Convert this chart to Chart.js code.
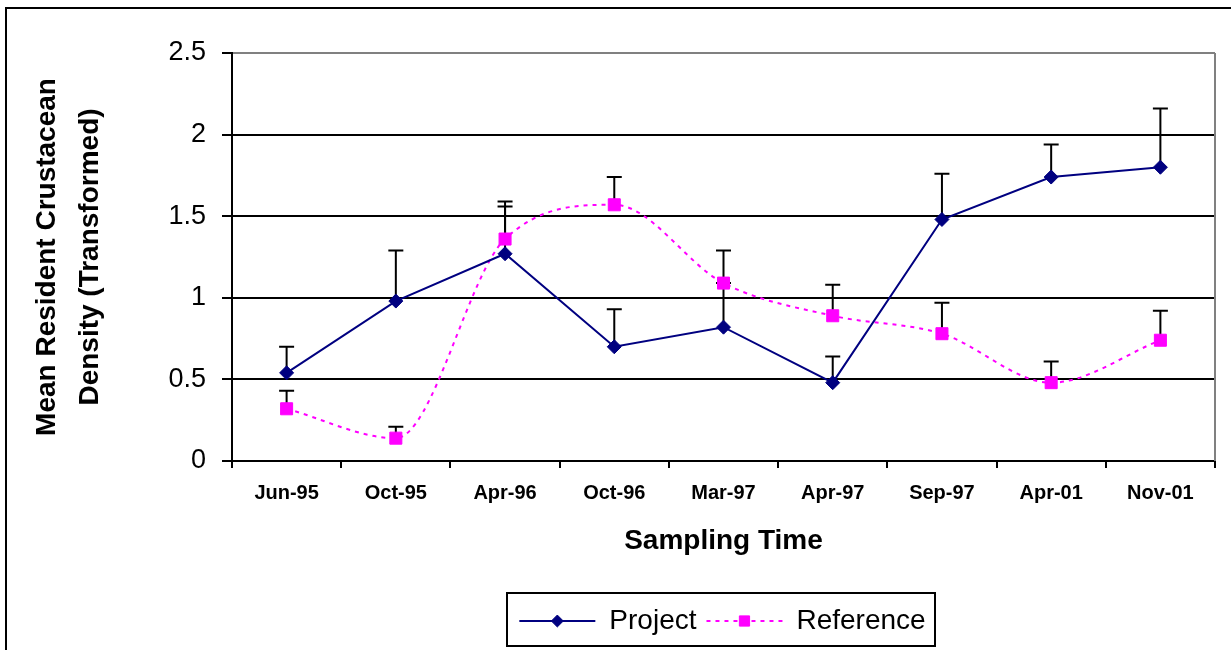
<!DOCTYPE html>
<html>
<head>
<meta charset="utf-8">
<script src="https://cdn.jsdelivr.net/npm/chart.js@4/dist/chart.umd.min.js"></script>
<style>
  html, body { margin: 0; padding: 0; background: #fff; }
  canvas { display: block; }
</style>
</head>
<body>
<canvas id="c" width="1231" height="650"></canvas>
<script>
// Sampling dates
const categories = ['Jun-95', 'Oct-95', 'Apr-96', 'Oct-96', 'Mar-97', 'Apr-97', 'Sep-97', 'Apr-01', 'Nov-01'];

// Mean (transformed) resident crustacean density and upper error (+1 SE)
const projectMean = [0.54, 0.98, 1.27, 0.70, 0.82, 0.48, 1.48, 1.74, 1.80];
const projectErr  = [0.16, 0.31, 0.32, 0.23, 0.27, 0.16, 0.28, 0.20, 0.36];
const referenceMean = [0.32, 0.14, 1.36, 1.57, 1.09, 0.89, 0.78, 0.48, 0.74];
const referenceErr  = [0.11, 0.07, 0.20, 0.17, 0.20, 0.19, 0.19, 0.13, 0.18];

const yTicks = [0, 0.5, 1, 1.5, 2, 2.5];

const FONT = '"Liberation Sans", Arial, sans-serif';
const errorSets = [projectErr, referenceErr];

const chartPlugin = {
  id: 'chartExtras',
  beforeDraw(chart) {
    const ctx = chart.ctx;
    ctx.save();
    ctx.fillStyle = '#fff';
    ctx.fillRect(0, 0, chart.width, chart.height);
    // outer frame
    ctx.strokeStyle = '#000';
    ctx.lineWidth = 2;
    ctx.strokeRect(6, 8, chart.width + 20, chart.height + 20);
    ctx.restore();
  },
  afterLayout(chart) {
    // centre the legend under the plot area and place it near the bottom
    const lg = chart.legend;
    const ca = chart.chartArea;
    const mid = (ca.left + ca.right) / 2 - 1;
    lg.left = mid - 300;
    lg.right = mid + 300;
    lg.width = 600;
    const h = lg.height;
    lg.top = 597;
    lg.bottom = lg.top + h;
  },
  beforeDatasetsDraw(chart) {
    // upper error bars with caps
    const ctx = chart.ctx;
    const y = chart.scales.y;
    ctx.save();
    ctx.strokeStyle = '#000';
    ctx.lineWidth = 2;
    chart.data.datasets.forEach((ds, di) => {
      const meta = chart.getDatasetMeta(di);
      const errs = errorSets[di];
      meta.data.forEach((pt, i) => {
        const x = pt.x;
        const y0 = y.getPixelForValue(ds.data[i]);
        const y1 = y.getPixelForValue(ds.data[i] + errs[i]);
        ctx.beginPath();
        ctx.moveTo(x, y0);
        ctx.lineTo(x, y1);
        ctx.moveTo(x - 7.5, y1);
        ctx.lineTo(x + 7.5, y1);
        ctx.stroke();
      });
    });
    ctx.restore();
  },
  afterDraw(chart) {
    const ctx = chart.ctx;
    const ca = chart.chartArea;
    ctx.save();
    // plot area right border
    ctx.strokeStyle = '#808080';
    ctx.lineWidth = 2;
    ctx.beginPath();
    ctx.moveTo(ca.right, ca.top);
    ctx.lineTo(ca.right, ca.bottom);
    ctx.stroke();

    // legend frame and series markers on the legend lines
    const lg = chart.legend;
    const pad = lg.options.labels.padding;
    const sw = lg.options.labels.pointStyleWidth;
    const fs = lg.options.labels.font.size;
    const W = lg.lineWidths[0];
    const start = (lg.left + lg.right) / 2 - (W - pad) / 2;
    const boxes = lg.legendHitBoxes;
    let x = start;
    const cy = lg.top + pad + fs / 2;
    chart.data.datasets.forEach((ds, i) => {
      ctx.fillStyle = ds.pointBackgroundColor;
      ctx.strokeStyle = ds.pointBorderColor;
      ctx.lineWidth = 1;
      ctx.setLineDash([]);
      Chart.helpers.drawPoint(ctx, { pointStyle: ds.pointStyle, radius: ds.pointRadius * 0.85, borderWidth: 1 }, x + sw / 2, cy);
      x += boxes[i].width + pad;
    });
    const right = x - pad;
    ctx.strokeStyle = '#000';
    ctx.lineWidth = 2;
    ctx.strokeRect(Math.round(start - 12), Math.round(lg.top - 4), Math.round(right - start + 22), 53);
    ctx.restore();
  }
};

new Chart(document.getElementById('c'), {
  type: 'line',
  data: {
    labels: categories,
    datasets: [
      {
        label: 'Project',
        data: projectMean,
        borderColor: '#000080',
        backgroundColor: '#000080',
        pointBackgroundColor: '#000080',
        pointBorderColor: '#000080',
        borderWidth: 2,
        pointStyle: 'rectRot',
        pointRadius: 7,
        pointBorderWidth: 1,
        tension: 0
      },
      {
        label: 'Reference',
        data: referenceMean,
        borderColor: '#FF00FF',
        backgroundColor: '#FF00FF',
        pointBackgroundColor: '#FF00FF',
        pointBorderColor: '#FF00FF',
        borderWidth: 2,
        borderDash: [4, 5],
        pointStyle: 'rect',
        pointRadius: 8.5,
        pointBorderWidth: 1,
        cubicInterpolationMode: 'monotone'
      }
    ]
  },
  options: {
    responsive: false,
    animation: false,
    devicePixelRatio: 1,
    layout: { padding: { top: 53, left: 0, right: 16, bottom: 44 } },
    plugins: {
      tooltip: { enabled: false },
      title: { display: false },
      legend: {
        position: 'bottom',
        labels: {
          usePointStyle: true,
          pointStyleWidth: 76,
          padding: 10,
          color: '#000',
          font: { family: FONT, size: 28 },
          generateLabels(chart) {
            const items = Chart.defaults.plugins.legend.labels.generateLabels(chart);
            items.forEach((it, i) => {
              const ds = chart.data.datasets[i];
              it.pointStyle = 'line';
              it.strokeStyle = ds.borderColor;
              it.fillStyle = ds.borderColor;
              it.lineWidth = ds.borderWidth;
              it.lineDash = ds.borderDash || [];
            });
            return items;
          }
        }
      }
    },
    scales: {
      x: {
        type: 'category',
        offset: true,
        afterFit(scale) { scale.height = 97; },
        grid: {
          display: true,
          offset: true,
          drawOnChartArea: false,
          drawTicks: true,
          tickLength: 7,
          color: '#000',
          lineWidth: 2
        },
        border: { display: true, color: '#000', width: 2 },
        ticks: {
          color: '#000',
          padding: 13,
          maxRotation: 0,
          autoSkip: false,
          font: { family: FONT, size: 20, weight: 'bold' }
        },
        title: {
          display: true,
          text: 'Sampling Time',
          color: '#000',
          padding: { top: 0, bottom: 0 },
          font: { family: FONT, size: 28, weight: 'bold' }
        }
      },
      y: {
        min: 0,
        max: 2.5,
        afterFit(scale) { scale.width = 232; },
        afterBuildTicks(scale) { scale.ticks = yTicks.map(v => ({ value: v })); },
        grid: {
          color: ctx => (ctx.tick && ctx.tick.value === 2.5 ? '#808080' : '#000'),
          tickColor: '#000',
          lineWidth: 2,
          tickLength: 10
        },
        border: { display: true, color: '#000', width: 2 },
        ticks: {
          color: '#000',
          padding: 16,
          font: { family: FONT, size: 27 },
          callback: v => String(v)
        },
        title: {
          display: true,
          text: ['Mean Resident Crustacean', 'Density (Transformed)'],
          color: '#000',
          padding: { top: 26, bottom: 0 },
          font: { family: FONT, size: 28, weight: 'bold', lineHeight: 1.53 }
        }
      }
    }
  },
  plugins: [chartPlugin]
});
</script>
</body>
</html>
